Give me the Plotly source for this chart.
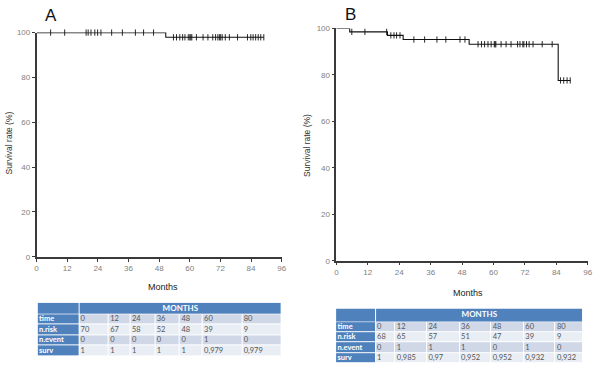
import numpy as np
import plotly.graph_objects as go

# ---------------- data ----------------
# Panel A: Kaplan-Meier steps (months, survival %)
step_t_A = [0, 50.6, 89.0]
step_s_A = [100, 97.9, 97.9]
cens_A = [5.5, 11.0, 19.4, 20.2, 21.3, 22.8, 23.9, 25.2, 29.4, 33.6, 38.7, 41.9, 45.8,
          53.6, 54.8, 56.1, 57.2, 58.1, 59.4, 60.0, 60.4, 60.8, 62.6, 65.2, 67.1, 69.0,
          70.1, 71.0, 71.6, 72.1, 72.7, 73.9, 75.5, 78.7, 82.6, 83.9, 84.8, 85.8, 86.8,
          87.8, 89.0]

# Panel B
step_t_B = [0, 5.1, 19.5, 25.5, 50.7, 84.7, 89.4]
step_s_B = [100, 98.5, 97.0, 95.2, 93.2, 77.6, 77.6]
cens_B = [5.9, 10.9, 19.2, 20.8, 22.0, 23.0, 24.3, 29.6, 33.7, 38.4, 41.8, 47.2, 49.1,
          54.1, 55.4, 56.6, 57.9, 59.1, 60.3, 60.6, 60.9, 62.9, 64.8, 66.7, 69.2, 70.1,
          71.2, 71.6, 72.6, 73.6, 75.1, 78.6, 82.4, 85.6, 86.8, 88.1, 89.3]

x_ticks = [0, 12, 24, 36, 48, 60, 72, 84, 96]
y_ticks = [0, 20, 40, 60, 80, 100]

row_labels = ["time", "n.risk", "n.event", "surv"]
time_pts = [0, 12, 24, 36, 48, 60, 80]
nrisk_A = [70, 67, 58, 52, 48, 39, 9]
nevent_A = [0, 0, 0, 0, 0, 1, 0]
surv_A = ["1", "1", "1", "1", "1", "0,979", "0,979"]
nrisk_B = [68, 65, 57, 51, 47, 39, 9]
nevent_B = [0, 1, 1, 1, 0, 1, 0]
surv_B = ["1", "0,985", "0,97", "0,952", "0,952", "0,932", "0,932"]

# ---------------- styling ----------------
W, H = 600, 375
FONT = "Liberation Sans"
AXC = "#3a3a3a"
TICKC = "#808080"
BLUE = "#4f81bd"
BAND1 = "#d0d8e8"
BAND2 = "#e9edf4"


def px_x(p):
    return p / W


def px_y(p):
    return 1 - p / H


def surv_at(ts, ss, t):
    idx = np.searchsorted(np.array(ts), np.array(t), side="right") - 1
    return np.array(ss)[idx]


fig = go.Figure()

for (st, ss, cs, xa, ya) in [(step_t_A, step_s_A, cens_A, "x", "y"),
                            (step_t_B, step_s_B, cens_B, "x2", "y2")]:
    fig.add_trace(go.Scatter(x=st, y=ss, mode="lines", line=dict(color="#111", width=1.1, shape="hv"),
                             xaxis=xa, yaxis=ya, cliponaxis=False, showlegend=False, hoverinfo="skip"))
    fig.add_trace(go.Scatter(x=cs, y=surv_at(st, ss, cs), mode="markers",
                             marker=dict(symbol="line-ns", size=4.5, line=dict(color="#111", width=0.9)),
                             xaxis=xa, yaxis=ya, cliponaxis=False, showlegend=False, hoverinfo="skip"))

axis_common = dict(showline=True, linecolor=AXC, linewidth=1.5, ticks="outside", ticklen=3,
                   tickwidth=1, tickcolor=AXC, showgrid=False, zeroline=False,
                   tickfont=dict(family=FONT, size=8, color=TICKC))

hidden = dict(visible=False, showgrid=False, zeroline=False, fixedrange=True)

# table geometry in pixels: (left, top, header height, row height, column widths)
tabA = dict(left=36, top=306, hh=12, rh=10.75, widths=[42, 30, 22, 25, 25, 23, 40, 40])
tabB = dict(left=338, top=312, hh=14, rh=10.5, widths=[40, 20, 32, 33, 32, 33, 32, 28])


def tab_extent(tb):
    right = tb["left"] + sum(tb["widths"])
    bottom = tb["top"] + tb["hh"] + 4 * tb["rh"]
    return right, bottom


rA, bA = tab_extent(tabA)
rB, bB = tab_extent(tabB)

fig.update_layout(
    width=W, height=H, margin=dict(l=0, r=0, t=0, b=0),
    paper_bgcolor="white", plot_bgcolor="white",
    xaxis=dict(domain=[px_x(35), px_x(283)], range=[0, 96], tickvals=x_ticks, anchor="y", **axis_common),
    yaxis=dict(domain=[px_y(259), px_y(29.3)], range=[0, 100], tickvals=y_ticks, anchor="x", **axis_common),
    xaxis2=dict(domain=[px_x(338.3), px_x(592.7)], range=[0, 96], tickvals=x_ticks, anchor="y2", **axis_common),
    yaxis2=dict(domain=[px_y(263), px_y(25)], range=[0, 100], tickvals=y_ticks, anchor="x2", **axis_common),
    xaxis3=dict(domain=[px_x(tabA["left"]), px_x(rA)], range=[tabA["left"], rA], anchor="y3", **hidden),
    yaxis3=dict(domain=[px_y(bA), px_y(tabA["top"])], range=[bA, tabA["top"]], anchor="x3", **hidden),
    xaxis4=dict(domain=[px_x(tabB["left"]), px_x(rB)], range=[tabB["left"], rB], anchor="y4", **hidden),
    yaxis4=dict(domain=[px_y(bB), px_y(tabB["top"])], range=[bB, tabB["top"]], anchor="x4", **hidden),
)

dscale = [[0, BLUE], [0.3333, BLUE], [0.3334, BAND1], [0.6666, BAND1], [0.6667, BAND2], [1, BAND2]]


def add_table(tb, nrisk, nevent, surv, xa, ya):
    xe = np.concatenate([[tb["left"]], tb["left"] + np.cumsum(tb["widths"])])
    ye_head = [tb["top"], tb["top"] + tb["hh"]]
    ye_rows = tb["top"] + tb["hh"] + tb["rh"] * np.arange(5)
    # header: label cell + merged MONTHS cell
    fig.add_trace(go.Heatmap(x=[xe[0], xe[1], xe[-1]], y=ye_head, z=[[0, 0]], zmin=0, zmax=2,
                             colorscale=dscale, showscale=False, xgap=1, ygap=1, hoverinfo="skip",
                             xaxis=xa, yaxis=ya))
    z = [[0] + [1 + (r % 2)] * len(time_pts) for r in range(4)]
    fig.add_trace(go.Heatmap(x=xe, y=ye_rows, z=z, zmin=0, zmax=2, colorscale=dscale, showscale=False,
                             xgap=1, ygap=1, hoverinfo="skip", xaxis=xa, yaxis=ya))
    yc = (ye_rows[:-1] + ye_rows[1:]) / 2
    # row labels
    fig.add_trace(go.Scatter(x=[xe[0] + 1.5] * 4, y=yc, mode="text", text=["<b>%s</b>" % r for r in row_labels],
                             textposition="middle right", textfont=dict(family="Lato", size=7.5, color="white"),
                             xaxis=xa, yaxis=ya, showlegend=False, hoverinfo="skip", cliponaxis=False))
    cols = [time_pts, nrisk, nevent, surv]
    tx, ty, tt = [], [], []
    for r in range(4):
        for c in range(len(time_pts)):
            tx.append(xe[c + 1] + 1.5)
            ty.append(yc[r])
            tt.append(str(cols[r][c]))
    fig.add_trace(go.Scatter(x=tx, y=ty, mode="text", text=tt, textposition="middle right",
                             textfont=dict(family="Lato", size=7.5, color="#555555"),
                             xaxis=xa, yaxis=ya, showlegend=False, hoverinfo="skip", cliponaxis=False))
    fig.add_trace(go.Scatter(x=[(xe[1] + xe[-1]) / 2], y=[(ye_head[0] + ye_head[1]) / 2], mode="text",
                             text=["<b>MONTHS</b>"], textposition="middle center",
                             textfont=dict(family="Lato", size=8, color="white"),
                             xaxis=xa, yaxis=ya, showlegend=False, hoverinfo="skip", cliponaxis=False))


add_table(tabA, nrisk_A, nevent_A, surv_A, "x3", "y3")
add_table(tabB, nrisk_B, nevent_B, surv_B, "x4", "y4")

ann = []


def add_ann(text, x, y, size, color="#222", angle=0, family=FONT):
    ann.append(dict(text=text, x=px_x(x), y=px_y(y), xref="paper",
                    yref="paper", xanchor="center", yanchor="middle", showarrow=False, textangle=angle,
                    font=dict(family=family, size=size, color=color)))


add_ann("A", 50, 12, 17, "#111")
add_ann("B", 353, 11, 17, "#111")
add_ann("Months", 163, 290, 9)
add_ann("Months", 472, 296, 9)
add_ann("Survival rate (%)", 7, 142, 8.5, "#333", angle=-90)
add_ann("Survival rate (%)", 308, 145, 8.5, "#333", angle=-90)
fig.update_layout(annotations=ann)

fig.write_html("out.html", config={"displayModeBar": False},
               post_script="document.body.style.margin='0';document.body.style.padding='0';")
